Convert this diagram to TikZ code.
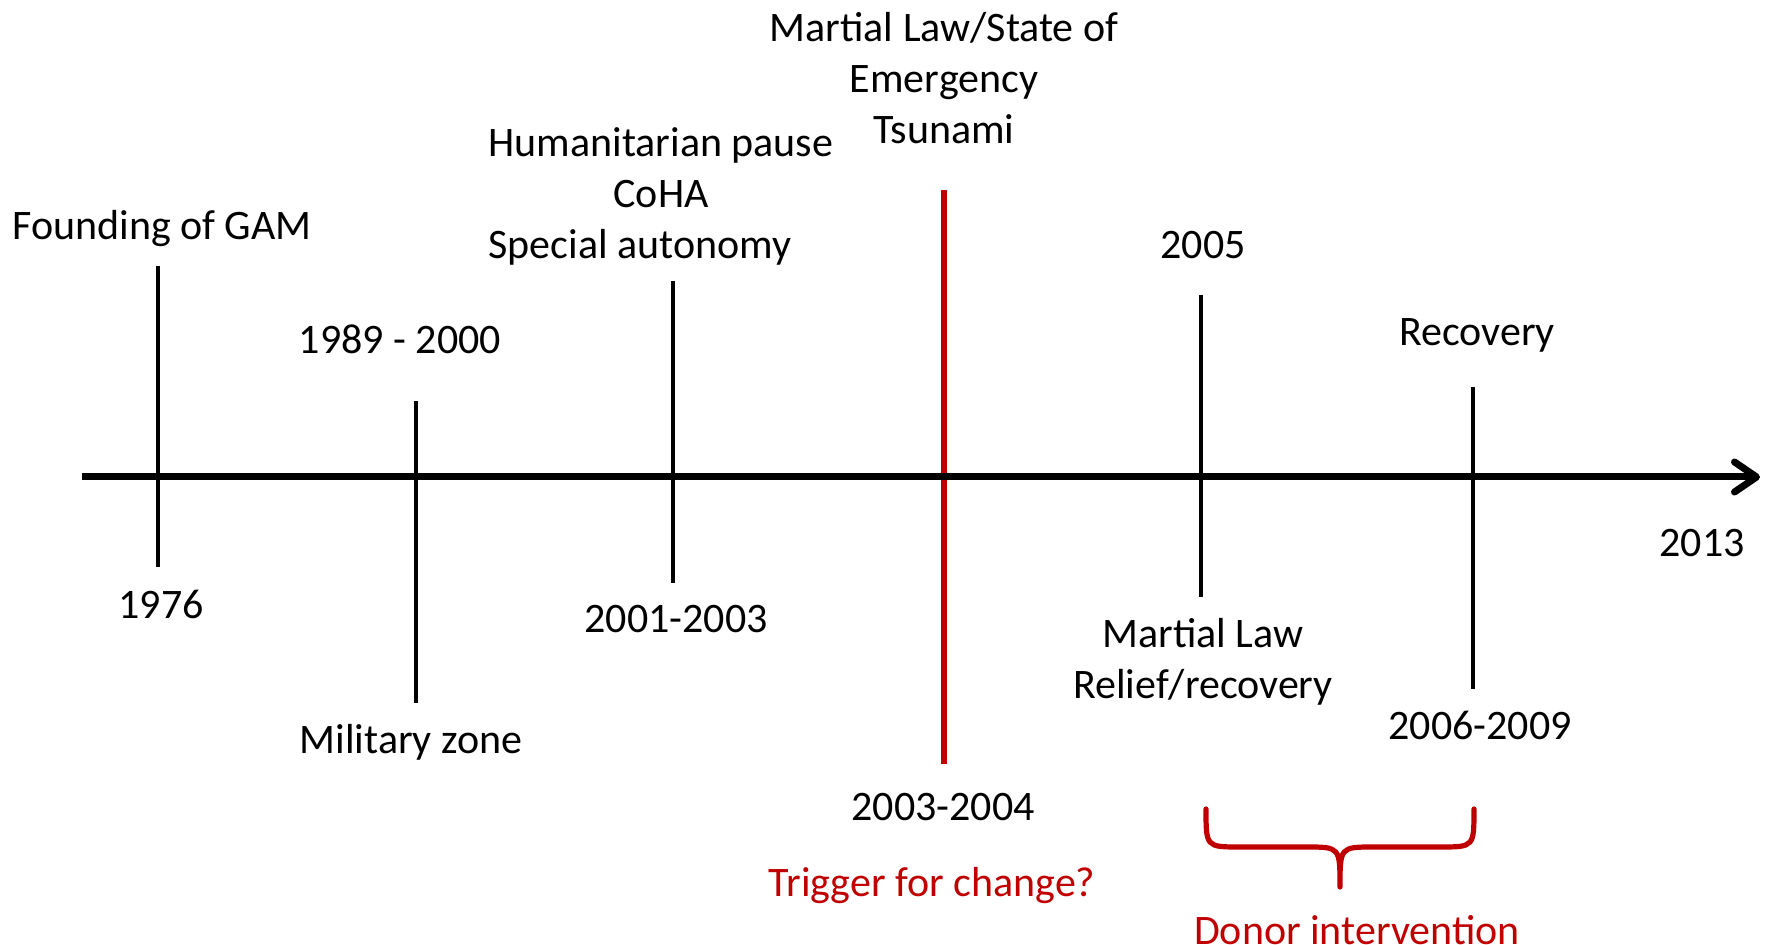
\documentclass[tikz,border=0pt]{standalone}
\usepackage{fontspec}
\setmainfont{Carlito}
\usetikzlibrary{arrows.meta}
\definecolor{trigred}{RGB}{192,0,0}

\begin{document}
\begin{tikzpicture}[x=0.5pt,y=-0.5pt,
  every node/.style={font=\fontsize{21}{25.5}\selectfont,align=center,inner sep=0pt},
  axis/.style={line width=3.5pt,-{Straight Barb[length=11pt,width=15pt,round]}},
  tick/.style={line width=2pt},
  redtick/.style={line width=2.8pt,draw=trigred},
  brace/.style={line width=2.6pt,draw=trigred,line cap=round,line join=round}]
\useasboundingbox (0,0) rectangle (1767,945);
% ticks
\draw[tick] (158,266) -- (158,567);
\draw[tick] (416,401) -- (416,703);
\draw[tick] (673,281) -- (673,583);
\draw[redtick] (944,190) -- (944,764);
\draw[tick] (1201,295) -- (1201,597);
\draw[tick] (1473,387) -- (1473,689);
% time line
\draw[axis] (82,477) -- (1760,477);
% events
\node (gam) at (162,229) {Founding of GAM};
\node (y1976) at (161,604) {1976};
\node (y1989) at (400,339) {1989 - 2000};
\node (milzone) at (411,742) {Military zone};
\node (pause) at (661,196) {Humanitarian pause\\CoHA\\Special autonomy\hspace*{21pt}};
\node (y2001) at (676,619) {2001-2003};
\node (tsunami) at (944,78) {Martial Law/State of\\Emergency\\Tsunami};
\node (y2003) at (943,807) {2003-2004};
\node[text=trigred] (trigger) at (932,886) {Trigger for change?};
\node (y2005) at (1203,245) {2005};
\node (relief) at (1203,662) {Martial Law\\Relief/recovery};
\node (recovery) at (1477,335) {Recovery};
\node (y2006) at (1480,725) {2006-2009};
\node (y2013) at (1702,543) {2013};
% donor brace
\draw[brace] (1206,809) .. controls (1206,847) .. (1240,847) -- (1306,847)
  .. controls (1340,847) .. (1340,887) .. controls (1340,847) .. (1374,847)
  -- (1440,847) .. controls (1474,847) .. (1474,809);
\node[text=trigred] (donor) at (1357,930) {Donor intervention};
\end{tikzpicture}
\end{document}
